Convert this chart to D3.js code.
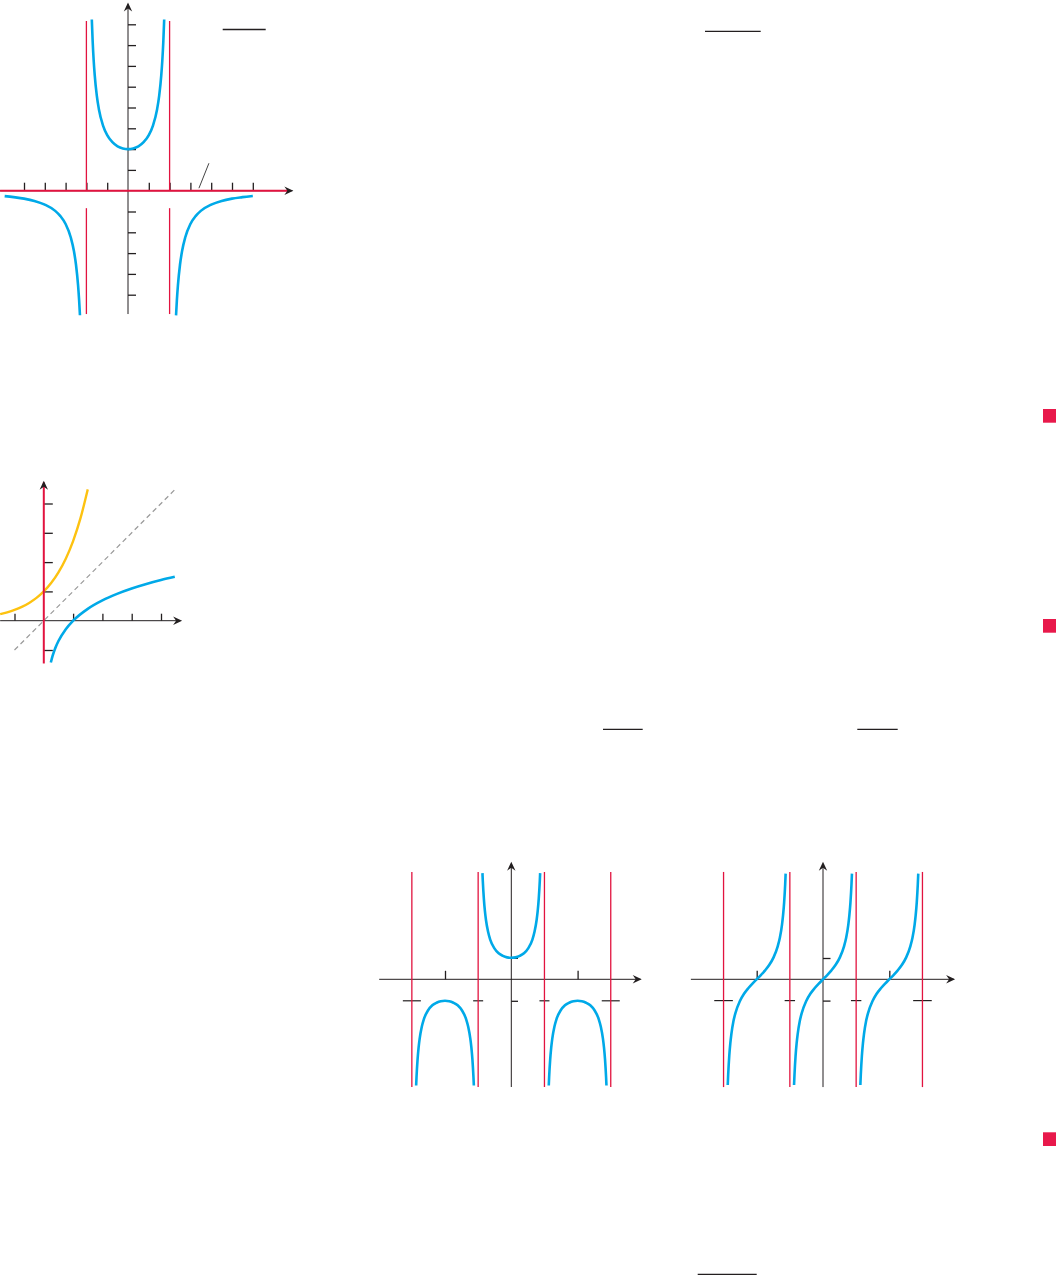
<!DOCTYPE html>
<html><head><meta charset="utf-8">
<script src="https://cdn.jsdelivr.net/npm/d3@7"></script>
<style>body{margin:0;background:#fff}svg{display:block}</style>
</head><body>
<script>
// ---------- DATA ----------
// Graph 1: y = 8/(4 - x^2)
const g1XTicks = [-5,-4,-3,-2,-1,1,2,3,4,5,6];
const g1YTicks = [-5,-4,-3,-2,-1,1,2,3,4,5,6,7,8];
const g1Asymptotes = [-2, 2];
const g1Upper = [[-1.74,8.23],[-1.7,7.21],[-1.65,6.26],[-1.6,5.56],[-1.5,4.57],[-1.4,3.92],[-1.2,3.13],[-1.0,2.67],[-0.75,2.33],[-0.5,2.13],[-0.25,2.03],[0,2],[0.25,2.03],[0.5,2.13],[0.75,2.33],[1.0,2.67],[1.2,3.13],[1.4,3.92],[1.5,4.57],[1.6,5.56],[1.65,6.26],[1.7,7.21],[1.74,8.23]];
const g1LowerLeft = [[-5.93,-0.26],[-5.5,-0.31],[-5,-0.38],[-4.5,-0.49],[-4,-0.67],[-3.5,-0.97],[-3.25,-1.22],[-3,-1.6],[-2.75,-2.25],[-2.6,-2.9],[-2.5,-3.56],[-2.4,-4.55],[-2.35,-5.26],[-2.31,-5.99]];
const g1LowerRight = [[2.31,-5.99],[2.35,-5.26],[2.4,-4.55],[2.5,-3.56],[2.6,-2.9],[2.75,-2.25],[3,-1.6],[3.25,-1.22],[3.5,-0.97],[4,-0.67],[4.5,-0.49],[5,-0.38],[5.5,-0.31],[6,-0.25]];
const g1Pointer = [[3.41,0.12],[3.89,1.32]];

// Graph 2: y = e^x, y = ln x, y = x
const g2XTicks = [-1,1,2,3,4];
const g2YTicks = [-1,1,2,3,4];
const g2Exp = [[-1.49,0.225],[-1.25,0.287],[-1,0.368],[-0.75,0.472],[-0.5,0.607],[-0.25,0.779],[0,1],[0.25,1.284],[0.5,1.649],[0.75,2.117],[1,2.718],[1.25,3.49],[1.5,4.482]];
const g2Log = [[0.24,-1.427],[0.3,-1.204],[0.4,-0.916],[0.5,-0.693],[0.75,-0.288],[1,0],[1.5,0.405],[2,0.693],[2.5,0.916],[3,1.099],[3.5,1.253],[4,1.386],[4.47,1.497]];
const g2Identity = [[-1,-1],[4.5,4.5]];

// Graph 3: y = sec x
const g3XTicks = [-Math.PI, Math.PI];
const g3YTicks = [-1, 1];
const g3Asymptotes = [-3*Math.PI/2, -Math.PI/2, Math.PI/2, 3*Math.PI/2];
const g3Left = [[-4.509,-4.94],[-4.492,-4.57],[-4.442,-3.74],[-4.392,-3.17],[-4.342,-2.76],[-4.242,-2.21],[-4.142,-1.85],[-3.942,-1.44],[-3.742,-1.21],[-3.542,-1.09],[-3.342,-1.02],[-3.142,-1.00],[-2.942,-1.02],[-2.742,-1.09],[-2.542,-1.21],[-2.342,-1.44],[-2.142,-1.85],[-2.042,-2.21],[-1.942,-2.76],[-1.892,-3.17],[-1.842,-3.74],[-1.792,-4.57],[-1.775,-4.94]];
const g3Mid = [[-1.367,4.94],[-1.35,4.57],[-1.3,3.74],[-1.25,3.17],[-1.2,2.76],[-1.1,2.21],[-1.0,1.85],[-0.8,1.44],[-0.6,1.21],[-0.4,1.09],[-0.2,1.02],[0,1],[0.2,1.02],[0.4,1.09],[0.6,1.21],[0.8,1.44],[1.0,1.85],[1.1,2.21],[1.2,2.76],[1.25,3.17],[1.3,3.74],[1.35,4.57],[1.367,4.94]];
const g3Right = [[1.775,-4.94],[1.792,-4.57],[1.842,-3.74],[1.892,-3.17],[1.942,-2.76],[2.042,-2.21],[2.142,-1.85],[2.342,-1.44],[2.542,-1.21],[2.742,-1.09],[2.942,-1.02],[3.142,-1.00],[3.342,-1.02],[3.542,-1.09],[3.742,-1.21],[3.942,-1.44],[4.142,-1.85],[4.242,-2.21],[4.342,-2.76],[4.392,-3.17],[4.442,-3.74],[4.492,-4.57],[4.509,-4.94]];

// Graph 4: y = tan x
const g4XTicks = [-Math.PI, Math.PI];
const g4YTicks = [-1, 1];
const g4Asymptotes = [-3*Math.PI/2, -Math.PI/2, Math.PI/2, 3*Math.PI/2];
const g4Left = [[-4.514,-4.96],[-4.492,-4.46],[-4.442,-3.60],[-4.392,-3.01],[-4.342,-2.57],[-4.242,-1.96],[-4.142,-1.56],[-3.942,-1.03],[-3.742,-0.68],[-3.542,-0.42],[-3.342,-0.20],[-3.142,0],[-2.942,0.20],[-2.742,0.42],[-2.542,0.68],[-2.342,1.03],[-2.142,1.56],[-2.042,1.96],[-1.942,2.57],[-1.892,3.01],[-1.842,3.60],[-1.792,4.46],[-1.770,4.96]];
const g4Mid = [[-1.372,-4.96],[-1.35,-4.46],[-1.3,-3.60],[-1.25,-3.01],[-1.2,-2.57],[-1.1,-1.96],[-1.0,-1.56],[-0.8,-1.03],[-0.6,-0.68],[-0.4,-0.42],[-0.2,-0.20],[0,0],[0.2,0.20],[0.4,0.42],[0.6,0.68],[0.8,1.03],[1.0,1.56],[1.1,1.96],[1.2,2.57],[1.25,3.01],[1.3,3.60],[1.35,4.46],[1.372,4.96]];
const g4Right = [[1.770,-4.96],[1.792,-4.46],[1.842,-3.60],[1.892,-3.01],[1.942,-2.57],[2.042,-1.96],[2.142,-1.56],[2.342,-1.03],[2.542,-0.68],[2.742,-0.42],[2.942,-0.20],[3.142,0],[3.342,0.20],[3.542,0.42],[3.742,0.68],[3.942,1.03],[4.142,1.56],[4.242,1.96],[4.342,2.57],[4.392,3.01],[4.442,3.60],[4.492,4.46],[4.514,4.96]];

// ---------- STYLE ----------
const BLUE = "#00a9e8", RED = "#e2133f", YEL = "#fdc210", INK = "#231f20", SQ = "#e8194b";

const svg = d3.select("body").append("svg").attr("width",1056).attr("height",1276);

function arrow(g, px, py, angle){
  g.append("path").attr("d","M0,0 L-9,-4.2 L-6,0 L-9,4.2 Z")
   .attr("transform",`translate(${px},${py}) rotate(${angle})`).attr("fill",INK);
}
function hline(g,x1,x2,y,color,w){ g.append("line").attr("x1",x1).attr("x2",x2).attr("y1",y).attr("y2",y).attr("stroke",color).attr("stroke-width",w); }
function vline(g,x,y1,y2,color,w){ g.append("line").attr("x1",x).attr("x2",x).attr("y1",y1).attr("y2",y2).attr("stroke",color).attr("stroke-width",w); }
function curve(g,x,y,data,color,w,dash){
  const p = g.append("path").datum(data)
    .attr("d", d3.line().x(d=>x(d[0])).y(d=>y(d[1])).curve(d3.curveMonotoneX))
    .attr("fill","none").attr("stroke",color).attr("stroke-width",w).attr("stroke-linecap","butt");
  if(dash) p.attr("stroke-dasharray",dash);
}
function ticks(g,x,y,xt,yt,xlen,ylen,w){
  g.append("g").attr("transform",`translate(0,${y(0)})`)
   .call(d3.axisBottom(x).tickValues(xt).tickSize(-xlen).tickFormat(""))
   .call(a=>{a.select(".domain").remove(); a.selectAll("line").attr("stroke",INK).attr("stroke-width",w);});
  g.append("g").attr("transform",`translate(${x(0)},0)`)
   .call(d3.axisLeft(y).tickValues(yt).tickSize(-ylen).tickFormat(""))
   .call(a=>{a.select(".domain").remove(); a.selectAll("line").attr("stroke",INK).attr("stroke-width",w);});
}

// ---------- GRAPH 1 ----------
{
  const g = svg.append("g");
  const x = d3.scaleLinear().domain([-5,6]).range([24,252.8]);
  const y = d3.scaleLinear().domain([-5,8]).range([294.7,24.3]);
  // axes
  hline(g, x(-6.15), x(7.9), y(0), INK, 1);
  vline(g, x(0), y(-5.93), y(8.95), INK, 1);
  ticks(g,x,y,g1XTicks,g1YTicks,8,8,1.3);
  // red horizontal asymptote
  hline(g, x(-6.15), x(7.7), y(0), RED, 2);
  // red vertical asymptotes (with gap below axis)
  g1Asymptotes.forEach(a=>{
    vline(g, x(a), y(8.16), y(0), RED, 1.3);
    vline(g, x(a), y(-0.84), y(-5.93), RED, 1.3);
  });
  curve(g,x,y,g1Upper,BLUE,2.6);
  curve(g,x,y,g1LowerLeft,BLUE,2.6);
  curve(g,x,y,g1LowerRight,BLUE,2.6);
  arrow(g, x(7.95), y(0), 0);
  arrow(g, x(0), y(9.05), -90);
  g.append("path").datum(g1Pointer).attr("d",d3.line().x(d=>x(d[0])).y(d=>y(d[1])))
   .attr("stroke","#444").attr("stroke-width",1).attr("fill","none");
}

// ---------- GRAPH 2 ----------
{
  const g = svg.append("g");
  const x = d3.scaleLinear().domain([-1,4]).range([14.5,161]);
  const y = d3.scaleLinear().domain([-1,4]).range([650,503.5]);
  hline(g, x(-1.49), x(4.65), y(0), INK, 1);
  ticks(g,x,y,g2XTicks,g2YTicks,7,9,1.3);
  curve(g,x,y,g2Identity,"#9a9a9a",1.2,"5,3.5");
  curve(g,x,y,g2Exp,YEL,2.4);
  curve(g,x,y,g2Log,BLUE,2.6);
  vline(g, x(0), y(4.72), y(-1.46), RED, 2);
  arrow(g, x(4.72), y(0), 0);
  arrow(g, x(0), y(4.78), -90);
}

// ---------- GRAPH 3 ----------
{
  const g = svg.append("g");
  const x = d3.scaleLinear().domain([-Math.PI,Math.PI]).range([445.0,577.6]);
  const y = d3.scaleLinear().domain([-1,1]).range([1000.8,957.8]);
  hline(g, x(-6.26), x(6.12), y(0), INK, 1);
  vline(g, x(0), y(-5.01), y(5.35), INK, 1);
  ticks(g,x,y,g3XTicks,g3YTicks,8.5,6.7,1.3);
  // fraction bars of the (absent) asymptote labels
  g3Asymptotes.forEach((a,i)=>{
    const half = (i===0||i===3) ? 9 : 5;
    hline(g, x(a)-half, x(a)+half, y(-1), INK, 1.2);
  });
  g3Asymptotes.forEach(a=> vline(g, x(a), y(4.99), y(-5.01), RED, 1.3));
  curve(g,x,y,g3Left,BLUE,2.6);
  curve(g,x,y,g3Mid,BLUE,2.6);
  curve(g,x,y,g3Right,BLUE,2.6);
  arrow(g, x(6.18), y(0), 0);
  arrow(g, x(0), y(5.47), -90);
}

// ---------- GRAPH 4 ----------
{
  const g = svg.append("g");
  const x = d3.scaleLinear().domain([-Math.PI,Math.PI]).range([756.7,889.3]);
  const y = d3.scaleLinear().domain([-1,1]).range([1000.6,958.0]);
  hline(g, x(-6.26), x(6.2), y(0), INK, 1);
  vline(g, x(0), y(-5.06), y(5.4), INK, 1);
  ticks(g,x,y,g4XTicks,g4YTicks,8.5,7.5,1.3);
  g4Asymptotes.forEach((a,i)=>{
    const half = (i===0||i===3) ? 9.3 : 5.2;
    hline(g, x(a)-half, x(a)+half, y(-1), INK, 1.2);
  });
  g4Asymptotes.forEach(a=> vline(g, x(a), y(5.04), y(-5.06), RED, 1.3));
  curve(g,x,y,g4Left,BLUE,2.6);
  curve(g,x,y,g4Mid,BLUE,2.6);
  curve(g,x,y,g4Right,BLUE,2.6);
  arrow(g, x(6.26), y(0), 0);
  arrow(g, x(0), y(5.52), -90);
}

// ---------- page furniture: fraction bars and section markers ----------
const fracBars = [[222.7,265.7,29.5],[705,760.7,31.3],[603,642.7,729.3],[857.3,897.7,729.3],[697.7,756.7,1274.3]];
fracBars.forEach(b=> hline(svg, b[0], b[1], b[2], INK, 1.3));
const markers = [409, 619, 1132.3];
markers.forEach(t=> svg.append("rect").attr("x",1043).attr("y",t).attr("width",13).attr("height",13.7).attr("fill",SQ));
</script>
</body></html>
